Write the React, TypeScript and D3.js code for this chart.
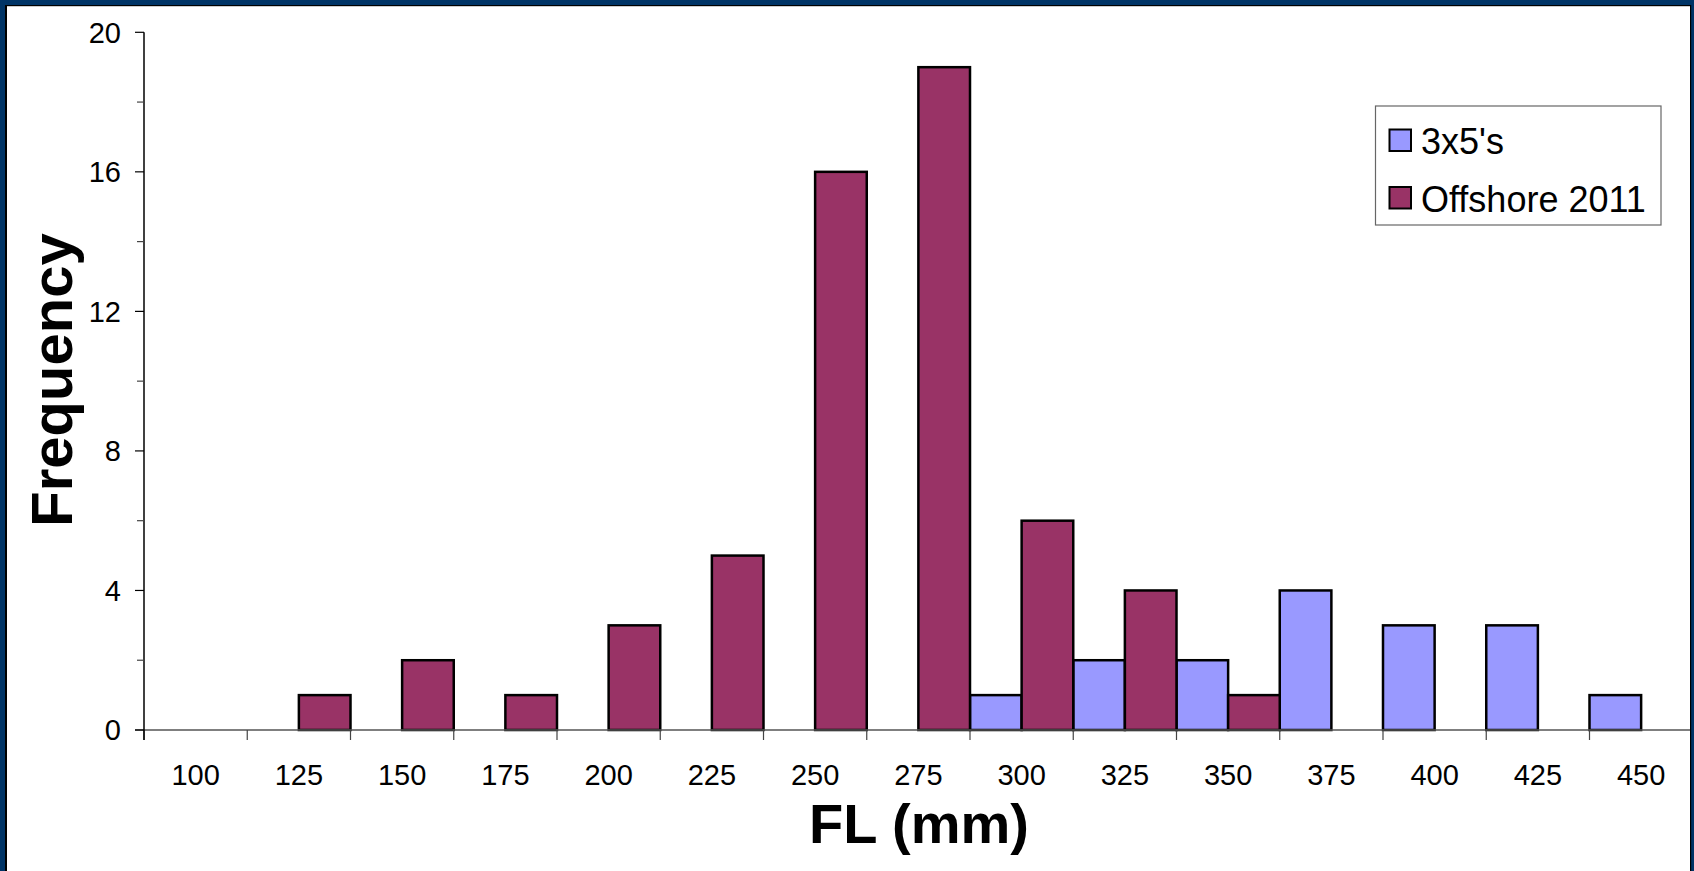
import React from "react";
import * as d3 from "d3";

const categories = ["100", "125", "150", "175", "200", "225", "250", "275", "300", "325", "350", "375", "400", "425", "450"];
const seriesNames = ["3x5's", "Offshore 2011"];
const seriesColors = ["#9999FF", "#993366"];
const values3x5 = [0, 0, 0, 0, 0, 0, 0, 0, 1, 2, 2, 4, 3, 3, 1];
const valuesOffshore = [0, 1, 2, 1, 3, 5, 16, 19, 6, 4, 1, 0, 0, 0, 0];
const yMajorTicks = [0, 4, 8, 12, 16, 20];
const yMinorTicks = [2, 6, 10, 14, 18];

const W = 1694;
const H = 871;
const FONT = "'Liberation Sans', Arial, Helvetica, sans-serif";

export default function App() {
  const left = 144;
  const bandW = 103.25;
  const x = d3
    .scaleBand<string>()
    .domain(categories)
    .range([left, left + bandW * categories.length])
    .paddingInner(0)
    .paddingOuter(0);
  const xs = d3.scaleBand<number>().domain([0, 1]).range([0, x.bandwidth()]).padding(0);
  const y = d3.scaleLinear().domain([0, 20]).range([730, 32.3]);
  const allSeries = [values3x5, valuesOffshore];

  return (
    <svg
      width={W}
      height={H}
      style={{ position: "absolute", left: 0, top: 0, background: "#fff" }}
      fontFamily={FONT}
    >
      <rect x={0} y={0} width={W} height={H} fill="#fff" />
      {/* bars */}
      {allSeries.map((vals, si) =>
        vals.map((v, i) =>
          v > 0 ? (
            <rect
              key={`b${si}-${i}`}
              x={(x(categories[i]) as number) + (xs(si) as number)}
              y={y(v)}
              width={xs.bandwidth()}
              height={y(0) - y(v)}
              fill={seriesColors[si]}
              stroke="#000"
              strokeWidth={2.5}
            />
          ) : null
        )
      )}
      {/* x axis */}
      <line x1={135} x2={W} y1={y(0)} y2={y(0)} stroke="#555" strokeWidth={1.5} />
      {categories.map((c, i) => (
        <line
          key={`xt${i}`}
          x1={(x(c) as number)}
          x2={(x(c) as number)}
          y1={y(0)}
          y2={y(0) + 10}
          stroke="#444"
          strokeWidth={1.2}
        />
      ))}
      {categories.map((c) => (
        <text
          key={`xl${c}`}
          x={(x(c) as number) + x.bandwidth() / 2}
          y={y(0) + 55}
          textAnchor="middle"
          fontSize={29}
          fill="#000"
        >
          {c}
        </text>
      ))}
      {/* y axis */}
      <line x1={left} x2={left} y1={y(20)} y2={y(0) + 10} stroke="#000" strokeWidth={1.5} />
      {yMajorTicks.map((t) => (
        <line key={`ym${t}`} x1={135} x2={left} y1={y(t)} y2={y(t)} stroke="#000" strokeWidth={1.2} />
      ))}
      {yMinorTicks.map((t) => (
        <line key={`yn${t}`} x1={137} x2={left} y1={y(t)} y2={y(t)} stroke="#444" strokeWidth={1.2} />
      ))}
      {yMajorTicks.map((t) => (
        <text
          key={`yl${t}`}
          x={121}
          y={y(t)}
          dy="0.36em"
          textAnchor="end"
          fontSize={29}
          fill="#000"
        >
          {t}
        </text>
      ))}
      {/* axis titles */}
      <text x={919} y={843} textAnchor="middle" fontSize={56} fontWeight="bold" fill="#000">
        FL (mm)
      </text>
      <text
        transform="translate(72,380) rotate(-90)"
        textAnchor="middle"
        fontSize={58}
        fontWeight="bold"
        fill="#000"
      >
        Frequency
      </text>
      {/* legend */}
      <rect x={1375.5} y={106} width={285.5} height={119} fill="#fff" stroke="#666" strokeWidth={1.2} />
      {seriesNames.map((n, i) => (
        <g key={`lg${i}`}>
          <rect
            x={1389.5}
            y={129.5 + i * 57.5}
            width={21.5}
            height={21.5}
            fill={seriesColors[i]}
            stroke="#000"
            strokeWidth={2}
          />
          <text x={1421} y={153.5 + i * 58.5} fontSize={36} fill="#000">
            {n}
          </text>
        </g>
      ))}
      {/* frame */}
      <rect x={0} y={0} width={5} height={H} fill="#003466" />
      <rect x={5} y={5} width={2} height={H} fill="#000" />
      <rect x={0} y={0} width={W} height={5} fill="#003466" />
      <rect x={5} y={5} width={W - 8} height={1.2} fill="#000" />
      <rect x={1691} y={0} width={3} height={H} fill="#003466" />
      <rect x={1690} y={5} width={1.2} height={H} fill="#000" />
    </svg>
  );
}
